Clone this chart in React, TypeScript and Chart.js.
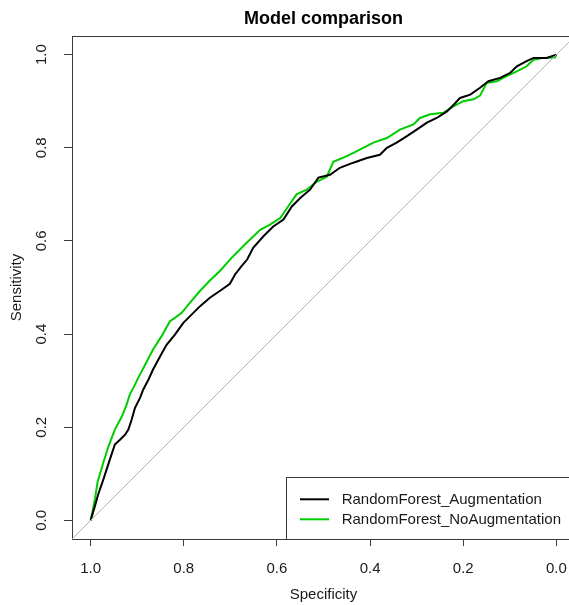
import React, { useEffect, useRef } from "react";
import { Chart, registerables } from "chart.js";

Chart.register(...registerables);

const TITLE = "Model comparison";
const X_TITLE = "Specificity";
const Y_TITLE = "Sensitivity";
const X_TICKS = [1.0, 0.8, 0.6, 0.4, 0.2, 0.0];
const Y_TICKS = [0.0, 0.2, 0.4, 0.6, 0.8, 1.0];
const SERIES_NAMES = ["RandomForest_Augmentation", "RandomForest_NoAugmentation"];
const SERIES_COLORS = ["#000000", "#00cd00"];

const AUG_SPEC = [1.0, 0.991, 0.984, 0.973, 0.959, 0.948, 0.937, 0.926, 0.919, 0.912, 0.905, 0.894, 0.887, 0.876, 0.866, 0.851, 0.837, 0.819, 0.801, 0.787, 0.765, 0.744, 0.722, 0.701, 0.69, 0.676, 0.664, 0.651, 0.629, 0.608, 0.586, 0.568, 0.55, 0.529, 0.511, 0.486, 0.465, 0.436, 0.407, 0.379, 0.364, 0.343, 0.321, 0.3, 0.278, 0.257, 0.235, 0.218, 0.207, 0.185, 0.164, 0.146, 0.121, 0.099, 0.085, 0.064, 0.049, 0.021, 0.0];
const AUG_SENS = [0.0, 0.03, 0.055, 0.087, 0.13, 0.163, 0.173, 0.184, 0.195, 0.216, 0.241, 0.263, 0.281, 0.302, 0.324, 0.352, 0.377, 0.399, 0.424, 0.438, 0.46, 0.478, 0.493, 0.508, 0.528, 0.546, 0.56, 0.585, 0.61, 0.631, 0.646, 0.674, 0.692, 0.71, 0.736, 0.742, 0.757, 0.768, 0.778, 0.785, 0.8, 0.811, 0.825, 0.839, 0.854, 0.864, 0.878, 0.895, 0.907, 0.914, 0.929, 0.943, 0.95, 0.961, 0.975, 0.986, 0.993, 0.993, 1.0];

const NOAUG_SPEC = [1.0, 0.991, 0.985, 0.973, 0.962, 0.948, 0.933, 0.923, 0.916, 0.905, 0.898, 0.883, 0.866, 0.848, 0.83, 0.805, 0.787, 0.765, 0.744, 0.722, 0.697, 0.665, 0.636, 0.615, 0.593, 0.576, 0.558, 0.536, 0.515, 0.493, 0.479, 0.45, 0.422, 0.393, 0.364, 0.336, 0.307, 0.293, 0.271, 0.243, 0.221, 0.2, 0.178, 0.164, 0.15, 0.128, 0.107, 0.085, 0.064, 0.049, 0.028, 0.003, 0.0];
const NOAUG_SENS = [0.0, 0.044, 0.083, 0.123, 0.158, 0.195, 0.223, 0.248, 0.27, 0.291, 0.306, 0.334, 0.367, 0.395, 0.427, 0.445, 0.467, 0.493, 0.515, 0.536, 0.564, 0.596, 0.624, 0.635, 0.649, 0.674, 0.7, 0.71, 0.727, 0.738, 0.77, 0.782, 0.796, 0.811, 0.821, 0.839, 0.85, 0.864, 0.872, 0.875, 0.889, 0.9, 0.904, 0.912, 0.939, 0.943, 0.954, 0.964, 0.975, 0.989, 0.993, 0.994, 1.0];

const DIAG_SPEC = [1.2, -0.2];
const DIAG_SENS = [-0.2, 1.2];

const FONT = "'Liberation Sans', Arial, Helvetica, sans-serif";

const toPoints = (xs: number[], ys: number[]) => xs.map((x, i) => ({ x, y: ys[i] }));

const decorPlugin = {
  id: "decor",
  afterDraw(chart: any) {
    const ctx = chart.ctx;
    const area = chart.chartArea;
    const yScale = chart.scales.y;
    ctx.save();
    ctx.strokeStyle = "#3a3a3a";
    ctx.lineWidth = 1;
    ctx.beginPath();
    ctx.moveTo(area.left, Math.round(area.top) + 0.5);
    ctx.lineTo(chart.width, Math.round(area.top) + 0.5);
    ctx.stroke();

    ctx.fillStyle = "#000";
    ctx.font = `bold 18px ${FONT}`;
    ctx.textAlign = "center";
    ctx.textBaseline = "middle";
    ctx.fillText(TITLE, 323.5, 19);

    ctx.font = `15px ${FONT}`;
    ctx.fillStyle = "#1a1a1a";
    ctx.fillText(X_TITLE, 323.5, 595);

    ctx.save();
    ctx.translate(17, (area.top + area.bottom) / 2);
    ctx.rotate(-Math.PI / 2);
    ctx.fillText(Y_TITLE, 0, 0);
    ctx.restore();

    Y_TICKS.forEach((v) => {
      const py = yScale.getPixelForValue(v);
      ctx.save();
      ctx.translate(42, py);
      ctx.rotate(-Math.PI / 2);
      ctx.fillText(v.toFixed(1), 0, 0);
      ctx.restore();
    });

    const lx = 286;
    const ly = 477;
    const lw = 300;
    const lh = area.bottom - ly;
    ctx.fillStyle = "#ffffff";
    ctx.fillRect(lx, ly, lw, lh);
    ctx.strokeStyle = "#3a3a3a";
    ctx.lineWidth = 1;
    ctx.strokeRect(lx + 0.5, ly + 0.5, lw, lh);
    const rows = [499.3, 519.3];
    SERIES_NAMES.forEach((name, i) => {
      ctx.strokeStyle = SERIES_COLORS[i];
      ctx.lineWidth = 2;
      ctx.beginPath();
      ctx.moveTo(300, rows[i]);
      ctx.lineTo(329, rows[i]);
      ctx.stroke();
      ctx.fillStyle = "#1a1a1a";
      ctx.font = `15px ${FONT}`;
      ctx.textAlign = "left";
      ctx.textBaseline = "middle";
      ctx.fillText(name, 341.7, rows[i] + 0.5);
    });
    ctx.restore();
  },
};

export default function App() {
  const ref = useRef<HTMLCanvasElement | null>(null);
  useEffect(() => {
    if (!ref.current) return;
    const chart = new Chart(ref.current, {
      type: "scatter",
      data: {
        datasets: [
          {
            label: "diagonal",
            data: toPoints(DIAG_SPEC, DIAG_SENS),
            showLine: true,
            borderColor: "#b4b4b4",
            borderWidth: 1,
            pointRadius: 0,
          },
          {
            label: SERIES_NAMES[0],
            data: toPoints(AUG_SPEC, AUG_SENS),
            showLine: true,
            borderColor: SERIES_COLORS[0],
            borderWidth: 2,
            pointRadius: 0,
          },
          {
            label: SERIES_NAMES[1],
            data: toPoints(NOAUG_SPEC, NOAUG_SENS),
            showLine: true,
            borderColor: SERIES_COLORS[1],
            borderWidth: 2,
            pointRadius: 0,
          },
        ],
      },
      options: {
        responsive: false,
        animation: false,
        devicePixelRatio: 1,
        layout: { padding: { top: 36, left: 0, right: 0, bottom: 0 } },
        plugins: { legend: { display: false }, tooltip: { enabled: false }, title: { display: false } },
        scales: {
          x: {
            type: "linear",
            reverse: true,
            min: -0.027,
            max: 1.04,
            afterBuildTicks: (s: any) => {
              s.ticks = X_TICKS.map((v) => ({ value: v }));
            },
            afterFit: (s: any) => {
              s.height = 66;
              s.paddingLeft = 0;
              s.paddingRight = 0;
            },
            grid: { display: true, drawOnChartArea: false, drawTicks: true, tickLength: 7, color: "#3a3a3a" },
            border: { display: true, color: "#3a3a3a", width: 1 },
            ticks: {
              padding: 14,
              color: "#1a1a1a",
              font: { family: FONT, size: 15 },
              maxRotation: 0,
              minRotation: 0,
              callback: (v: any) => Number(v).toFixed(1),
            },
          },
          y: {
            type: "linear",
            min: -0.04,
            max: 1.04,
            afterBuildTicks: (s: any) => {
              s.ticks = Y_TICKS.map((v) => ({ value: v }));
            },
            afterFit: (s: any) => {
              s.width = 72;
              s.paddingTop = 0;
              s.paddingBottom = 0;
            },
            grid: { display: true, drawOnChartArea: false, drawTicks: true, tickLength: 8, color: "#3a3a3a" },
            border: { display: true, color: "#3a3a3a", width: 1 },
            ticks: { display: false },
          },
        },
      },
      plugins: [decorPlugin],
    } as any);
    return () => chart.destroy();
  }, []);
  return (
    <div style={{ position: "absolute", left: 0, top: 0, width: 569, height: 605, background: "#fff" }}>
      <canvas ref={ref} width={569} height={605} style={{ display: "block" }} />
    </div>
  );
}
